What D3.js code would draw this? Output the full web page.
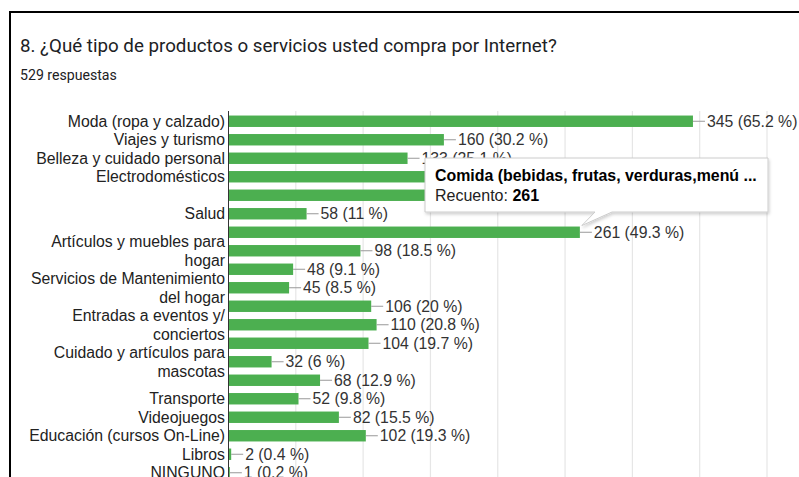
<!DOCTYPE html>
<html>
<head>
<meta charset="utf-8">
<script src="https://cdn.jsdelivr.net/npm/d3@7"></script>
<style>
  body { margin: 0; background: #fff; }
  svg { display: block; }
</style>
</head>
<body>
<div id="chart"></div>
<script>
// Data (rows with no label were hidden by Google Charts)
const categories = [
  'Moda (ropa y calzado)', 'Viajes y turismo', 'Belleza y cuidado personal',
  'Electrodomésticos', '', 'Salud', 'Comida (bebidas, frutas, verduras,menú ...',
  'Artículos y muebles para\nhogar', '', 'Servicios de Mantenimiento\ndel hogar', '',
  'Entradas a eventos y/\nconciertos', '', 'Cuidado y artículos para\nmascotas', '',
  'Transporte', 'Videojuegos', 'Educación (cursos On-Line)', 'Libros', 'NINGUNO'
];
const showLabel = [1, 1, 1, 1, 0, 1, 0, 1, 0, 1, 0, 1, 0, 1, 0, 1, 1, 1, 1, 1];
const counts = [345, 160, 133, 170, 190, 58, 261, 98, 48, 45, 106, 110, 104, 32, 68, 52, 82, 102, 2, 1];
const pcts = ['65.2', '30.2', '25.1', '32.1', '35.9', '11', '49.3', '18.5', '9.1', '8.5',
  '20', '20.8', '19.7', '6', '12.9', '9.8', '15.5', '19.3', '0.4', '0.2'];
const xTicks = [0, 50, 100, 150, 200, 250, 300, 350, 400];

const title = '8. ¿Qué tipo de productos o servicios usted compra por Internet?';
const subtitle = '529 respuestas';
const tipIndex = 6; // row with the hover tooltip

let w = 799, h = 477,
  green = '#4caf50',
  labelFont = '"Liberation Sans", Arial, sans-serif';

let svg = d3.select('#chart').append('svg')
  .attr('width', w)
  .attr('height', h);

// drop shadow for the tooltip
svg.append('defs').append('filter')
  .attr('id', 'shadow')
  .attr('x', '-10%').attr('y', '-20%')
  .attr('width', '120%').attr('height', '150%')
  .append('feDropShadow')
  .attr('dx', 1).attr('dy', 2)
  .attr('stdDeviation', 1.5)
  .attr('flood-color', '#000')
  .attr('flood-opacity', 0.18);

// card border (top and left edge visible in the screenshot)
svg.append('path')
  .attr('d', 'M10,477V12H799')
  .attr('fill', 'none')
  .attr('stroke', '#000')
  .attr('stroke-width', 2);

// title + response count, scaled to the widths seen in the screenshot
let fitText = (sel, width) => {
  let len = sel.node().getComputedTextLength(),
    size = parseFloat(sel.attr('font-size'));
  sel.attr('font-size', size * width / len);
};

svg.append('text')
  .attr('x', 20).attr('y', 52)
  .attr('font-family', 'Roboto, "Open Sans", sans-serif')
  .attr('font-size', 18)
  .attr('fill', '#202124')
  .text(title)
  .call(fitText, 537);

svg.append('text')
  .attr('x', 20).attr('y', 80)
  .attr('font-family', 'Roboto, "Open Sans", sans-serif')
  .attr('font-size', 13)
  .attr('fill', '#202124')
  .text(subtitle)
  .call(fitText, 97);

// scales
let x = d3.scaleLinear().domain([0, 400]).range([228.5, 767]);
let y = d3.scaleBand()
  .domain(d3.range(categories.length))
  .range([112, 112 + 18.5 * categories.length])
  .paddingInner(0.382)
  .paddingOuter(0.191);

// vertical gridlines
svg.append('g')
  .selectAll('line')
  .data(xTicks.slice(1))
  .join('line')
  .attr('x1', d => x(d)).attr('x2', d => x(d))
  .attr('y1', 111).attr('y2', h)
  .attr('stroke', '#e6e6e6')
  .attr('stroke-width', 1.2);

// bars
let rows = svg.append('g')
  .selectAll('g')
  .data(counts)
  .join('g');

rows.append('rect')
  .attr('x', x(0))
  .attr('y', (d, i) => y(i))
  .attr('width', d => x(d) - x(0))
  .attr('height', y.bandwidth())
  .attr('fill', green);

// leader line + value label
rows.append('line')
  .attr('x1', d => x(d))
  .attr('x2', d => x(d) + 12)
  .attr('y1', (d, i) => y(i) + y.bandwidth() / 2)
  .attr('y2', (d, i) => y(i) + y.bandwidth() / 2)
  .attr('stroke', '#999');

rows.append('text')
  .attr('x', d => x(d) + 14)
  .attr('y', (d, i) => y(i) + y.bandwidth() / 2)
  .attr('dy', '0.36em')
  .attr('font-family', labelFont)
  .attr('font-size', 15.8)
  .attr('fill', '#333')
  .text((d, i) => d + ' (' + pcts[i] + ' %)');

// axis line
svg.append('line')
  .attr('x1', x(0)).attr('x2', x(0))
  .attr('y1', 111).attr('y2', h)
  .attr('stroke', '#333');

// category labels (wrapped ones get two lines around the row centre)
let labels = svg.append('g')
  .selectAll('text')
  .data(categories.map((c, i) => ({c: c, i: i})).filter(d => showLabel[d.i]))
  .join('text')
  .attr('text-anchor', 'end')
  .attr('font-family', labelFont)
  .attr('font-size', 15.8)
  .attr('fill', '#222');

labels.each(function (d) {
  let lines = d.c.split('\n'),
    cy = y(d.i) + y.bandwidth() / 2,
    lh = 19;
  lines.forEach((line, k) => {
    d3.select(this).append('tspan')
      .attr('x', 225)
      .attr('y', cy + (k - (lines.length - 1) / 2) * lh)
      .attr('dy', '0.36em')
      .text(line);
  });
});

// hover tooltip on the "Comida" bar
let tipX = x(counts[tipIndex]) + 2,
  tipY = y(tipIndex) - 1,
  box = {x0: 425, x1: 768, y0: 158, y1: 212};

let tip = svg.append('g');

tip.append('path')
  .attr('d', 'M' + box.x0 + ',' + box.y0 + 'H' + box.x1 + 'V' + box.y1 +
    'H612L' + tipX + ',' + tipY + 'L595,' + box.y1 + 'H' + box.x0 + 'Z')
  .attr('fill', '#fff')
  .attr('stroke', '#ccc')
  .attr('filter', 'url(#shadow)');

tip.append('text')
  .attr('x', 435).attr('y', 181)
  .attr('font-family', labelFont)
  .attr('font-size', 16)
  .attr('font-weight', 'bold')
  .attr('fill', '#000')
  .text(categories[tipIndex])
  .call(fitText, 322);

let rec = tip.append('text')
  .attr('x', 435).attr('y', 201)
  .attr('font-family', labelFont)
  .attr('font-size', 16)
  .attr('fill', '#222');
rec.append('tspan').text('Recuento: ');
rec.append('tspan').attr('font-weight', 'bold').attr('fill', '#000').text(counts[tipIndex]);
</script>
</body>
</html>
